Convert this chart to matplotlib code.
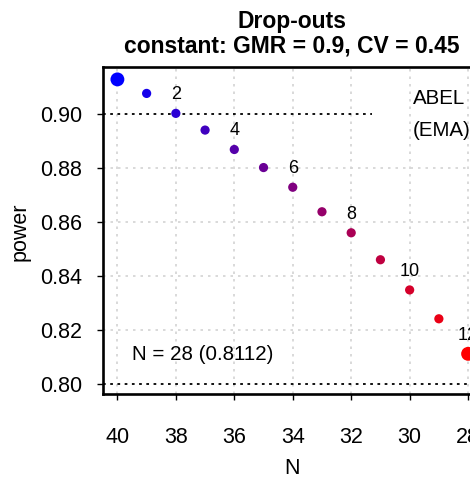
import numpy as np
import matplotlib
matplotlib.use('Agg')
import matplotlib.pyplot as plt

plt.rcParams['font.family'] = ['Liberation Sans', 'DejaVu Sans']

# datos
n_values = [40, 39, 38, 37, 36, 35, 34, 33, 32, 31, 30, 29, 28]
power = [0.9130, 0.9078, 0.9004, 0.8942, 0.8870, 0.8803, 0.8730,
         0.8639, 0.8561, 0.8461, 0.8349, 0.8242, 0.8112]
dropouts = [0, 1, 2, 3, 4, 5, 6, 7, 8, 9, 10, 11, 12]
x_ticks = [40, 38, 36, 34, 32, 30, 28]
y_ticks = [0.80, 0.82, 0.84, 0.86, 0.88, 0.90]
target_power = 0.90
min_power = 0.80
title_lines = ['Drop-outs', 'constant: GMR = 0.9, CV = 0.45']

W, H = 470, 478
fig = plt.figure(figsize=(W / 100, H / 100), dpi=100)

# ejes en píxeles (el borde derecho queda fuera de la figura)
left, right, top, bottom = 102.5, 483, 67, 394
ax = fig.add_axes([left / W, (H - bottom) / H, (right - left) / W, (bottom - top) / H])

ax.set_xlim(40.51, 27.49)
ax.set_ylim(0.7963, 0.9176)

# rejilla
for xv in x_ticks:
    ax.axvline(xv, color='#d3d3d3', lw=1.2, ls=(0, (1.5, 3)), zorder=0)
for yv in y_ticks[1:-1]:
    ax.axhline(yv, color='#d3d3d3', lw=1.2, ls=(0, (1.5, 3)), zorder=0)

# líneas de referencia
ax.plot([40.51, 31.3], [target_power, target_power], color='black', lw=1.3,
        ls=(0, (1.5, 2.5)), zorder=1)
ax.axhline(min_power, color='black', lw=1.3, ls=(0, (1.5, 2.5)), zorder=1)

# puntos con degradado azul -> rojo
k = len(n_values)
colors = [(i / (k - 1), 0, 1 - i / (k - 1)) for i in range(k)]
sizes = [100 if i in (0, k - 1) else 44 for i in range(k)]
ax.scatter(n_values, power, c=colors, s=sizes, linewidths=0, zorder=3, clip_on=False)

# etiquetas de drop-outs
for nv, pv, d in zip(n_values, power, dropouts):
    if d > 0 and d % 2 == 0:
        ax.annotate(str(d), (nv, pv), xytext=(0, 13.5), textcoords='offset points',
                    ha='center', va='center', fontsize=13)

ax.text(0.0775, 0.1193, 'N = 28 (0.8112)', transform=ax.transAxes,
        ha='left', va='center', fontsize=14.8)
ax.text(0.816, 0.905, 'ABEL', transform=ax.transAxes, ha='left', va='center', fontsize=14.8)
ax.text(0.816, 0.807, '(EMA)', transform=ax.transAxes, ha='left', va='center', fontsize=14.8)

ax.set_xticks(x_ticks)
ax.set_xticklabels([str(v) for v in x_ticks])
ax.set_yticks(y_ticks)
ax.set_yticklabels([f'{v:.2f}' for v in y_ticks])
ax.tick_params(axis='both', direction='out', length=4.5, width=1, labelsize=15.5)
ax.tick_params(axis='x', pad=19)
ax.tick_params(axis='y', pad=10)

for s in ['left', 'top', 'bottom']:
    ax.spines[s].set_linewidth(1.9)
ax.spines['right'].set_visible(False)

fig.text(292 / W, 1 - 28 / H, title_lines[0], ha='center', va='baseline',
         fontsize=16.5, fontweight='bold')
fig.text(292 / W, 1 - 53 / H, title_lines[1], ha='center', va='baseline',
         fontsize=16.5, fontweight='bold')
fig.text(292 / W, 1 - 468 / H, 'N', ha='center', va='center', fontsize=15.5)
fig.text(20 / W, 1 - 232 / H, 'power', ha='center', va='center', rotation=90, fontsize=15.5)

fig.savefig('out.png', dpi=100)
